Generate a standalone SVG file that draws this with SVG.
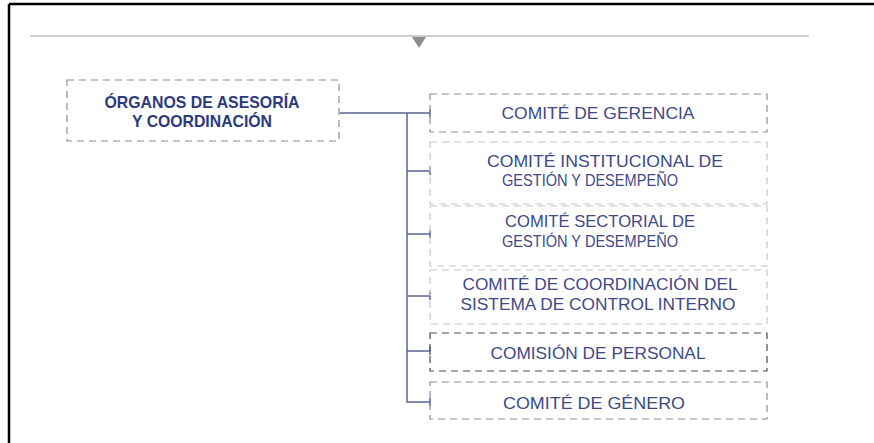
<svg xmlns="http://www.w3.org/2000/svg" width="874" height="443" viewBox="0 0 874 443">
<style>
.box{fill:none;stroke-width:1.2;stroke-dasharray:7 5}
.b1{stroke:#8c8e9c}
.b2{stroke:#c4c6cf}
.b5{stroke:#4a4a55}
.t{font-family:"Liberation Sans",Arial,sans-serif;font-size:17px;fill:#3d4a85;text-anchor:middle}
.tl{font-family:"Liberation Sans",Arial,sans-serif;font-size:17px;font-weight:bold;fill:#2c3a7e;text-anchor:middle}
.conn{fill:none;stroke:#5b6395;stroke-width:1.5}
</style>
<rect x="0" y="0" width="874" height="443" fill="#ffffff"/>
<path d="M9 4 H874 M9 4 V443" fill="none" stroke="#000" stroke-width="2.5"/>
<line x1="30" y1="36" x2="809" y2="36" stroke="#bdbdbd" stroke-width="1.5"/>
<polygon points="412,37 426,37 419,48" fill="#8e8e8e"/>
<g id="organos">
<rect class="box b1" x="67" y="80" width="272" height="61"/>
<text class="tl" x="202" y="108" textLength="195" lengthAdjust="spacingAndGlyphs">ÓRGANOS DE ASESORÍA</text>
<text class="tl" x="202" y="127" textLength="140" lengthAdjust="spacingAndGlyphs">Y COORDINACIÓN</text>
</g>
<g id="connectors">
<path class="conn" d="M340 113 H430 M407 113 V402 H430 M407 171 H430 M407 234 H430 M407 296 H430 M407 351 H430"/>
<path class="conn" d="M430 109 V117 M430 167 V175 M430 230 V238 M430 292 V300 M430 347 V355 M430 398 V406"/>
</g>
<g id="gerencia">
<rect class="box b1" x="430" y="94" width="337" height="38"/>
<text class="t" x="598" y="119" textLength="193" lengthAdjust="spacingAndGlyphs">COMITÉ DE GERENCIA</text>
</g>
<g id="institucional">
<rect class="box b2" x="430" y="142" width="337" height="62"/>
<text class="t" x="605" y="167" textLength="236" lengthAdjust="spacingAndGlyphs">COMITÉ INSTITUCIONAL DE</text>
<text class="t" x="590" y="186" textLength="176" lengthAdjust="spacingAndGlyphs">GESTIÓN Y DESEMPEÑO</text>
</g>
<g id="sectorial">
<rect class="box b2" x="430" y="206" width="337" height="60"/>
<text class="t" x="600" y="227" textLength="190" lengthAdjust="spacingAndGlyphs">COMITÉ SECTORIAL DE</text>
<text class="t" x="590" y="247" textLength="176" lengthAdjust="spacingAndGlyphs">GESTIÓN Y DESEMPEÑO</text>
</g>
<g id="coordinacion">
<rect class="box b2" x="430" y="270" width="337" height="54"/>
<text class="t" x="600" y="290" textLength="275" lengthAdjust="spacingAndGlyphs">COMITÉ DE COORDINACIÓN DEL</text>
<text class="t" x="598" y="310" textLength="275" lengthAdjust="spacingAndGlyphs">SISTEMA DE CONTROL INTERNO</text>
</g>
<g id="personal">
<rect class="box b5" x="430" y="333" width="337" height="38"/>
<text class="t" x="598" y="359" textLength="215" lengthAdjust="spacingAndGlyphs">COMISIÓN DE PERSONAL</text>
</g>
<g id="genero">
<rect class="box b1" x="430" y="382" width="337" height="37"/>
<text class="t" x="594" y="409" textLength="182" lengthAdjust="spacingAndGlyphs">COMITÉ DE GÉNERO</text>
</g>
</svg>
